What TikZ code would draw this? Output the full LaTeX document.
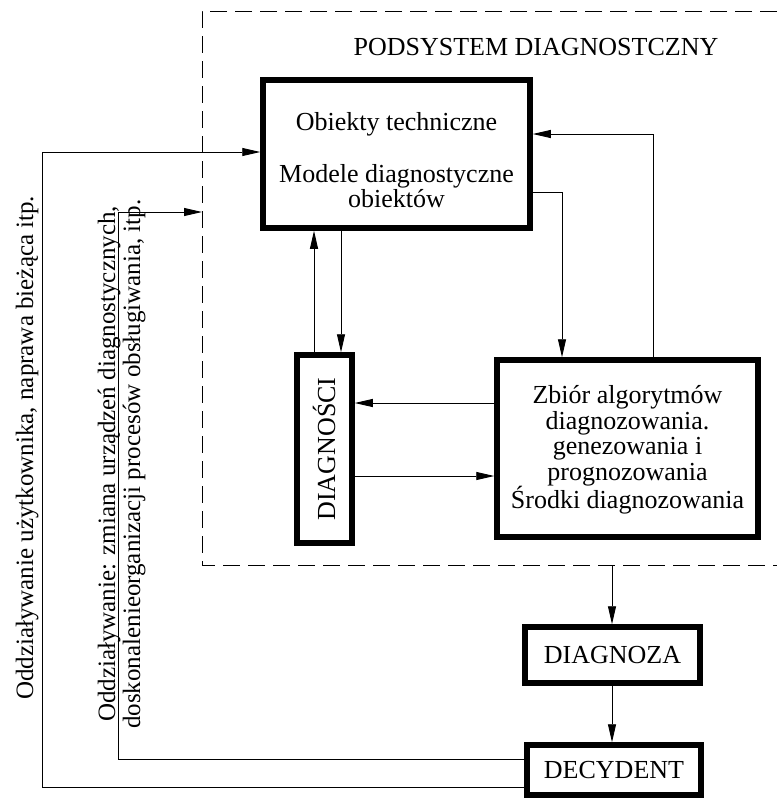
\documentclass[tikz,border=0pt]{standalone}
\usepackage{fontspec}
\setmainfont{Liberation Serif}
\usetikzlibrary{arrows.meta}
\begin{document}
\begin{tikzpicture}[x=1pt,y=-1pt,
  every node/.style={font=\fontsize{26pt}{25.5pt}\selectfont},
  conn/.style={line width=0.9pt},
  arr/.style={line width=0.9pt,-{Triangle[length=18pt,width=8pt]}},
  bigbox/.style={draw,line width=5.5pt,inner sep=0pt},
  frame/.style={line width=0.9pt,dash pattern=on 17pt off 8pt},
  txt/.style={inner sep=0pt,align=center},
  side/.style={inner sep=0pt,rotate=90,anchor=base west,font=\fontsize{25pt}{25pt}\selectfont}]
\useasboundingbox (0,0) rectangle (777,798);

% dashed subsystem frame
\draw[frame] (777,11) -- (202,11) -- (202,565) -- (777,565);
\node[txt] (title) at (536,47) {PODSYSTEM DIAGNOSTCZNY};

% boxes
\node[bigbox,minimum width=267pt,minimum height=148pt] (obj) at (396.5,154) {};
\node[txt] (objtxt) at (396.5,160) {Obiekty techniczne\\[26.5pt]Modele diagnostyczne\\obiektów};

\node[bigbox,minimum width=261pt,minimum height=177pt] (alg) at (627.5,448.5) {};
\node[txt] (algtxt) at (627.5,450) {Zbiór algorytmów\\diagnozowania.\\genezowania i\\prognozowania\\Środki diagnozowania};

\node[bigbox,minimum width=55pt,minimum height=188pt] (dgs) at (324.5,449) {};
\node[txt,rotate=90,anchor=base] (dgstxt) at (335,449) {DIAGNOŚCI};

\node[bigbox,minimum width=175pt,minimum height=56pt] (dgz) at (612.5,655) {DIAGNOZA};
\node[bigbox,minimum width=174pt,minimum height=50pt] (dec) at (614,770) {DECYDENT};

% side texts
\node[side] (t1) at (33,700) {Oddziaływanie użytkownika, naprawa bieżąca itp.};
\node[side] (t2) at (115,722) {Oddziaływanie: zmiana urządzeń diagnostycznych,};
\node[side] (t3) at (140,729) {doskonalenieorganizacji procesów obsługiwania, itp.};

% coordinates
\coordinate (fb) at (612,565);
\coordinate (fl) at (202,212);

% connectors
\draw[arr] (fb) -- (dgz.north -| fb);
\draw[arr] (612,0 |- dgz.south) -- (612,0 |- dec.north);
\draw[arr] (dec.west |- 0,759) -- (118,759) -- (118,212) -- (fl);
\draw[arr] (dec.west |- 0,787) -- (42,787) -- (42,152) -- (obj.west |- 0,152);
\draw[arr] (314,0 |- dgs.north) -- (314,0 |- obj.south);
\draw[arr] (341,0 |- obj.south) -- (341,0 |- dgs.north);
\draw[arr] (alg.west |- 0,403) -- (dgs.east |- 0,403);
\draw[arr] (dgs.east |- 0,476) -- (alg.west |- 0,476);
\draw[arr] (obj.east |- 0,192) -- (562,192) -- (562,0 |- alg.north);
\draw[arr] (653,0 |- alg.north) -- (653,134) -- (obj.east |- 0,134);
\end{tikzpicture}
\end{document}
